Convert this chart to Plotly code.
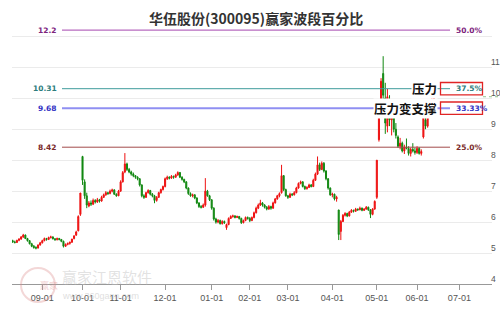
import pandas as pd
import plotly.graph_objects as go

# ---------------- data ----------------
title_text = "华伍股份(300095)赢家波段百分比"

holidays = ['2024-09-16', '2024-09-17', '2024-10-01', '2024-10-02', '2024-10-03',
            '2024-10-04', '2024-10-07', '2025-01-01', '2025-01-28', '2025-01-29',
            '2025-01-30', '2025-01-31', '2025-02-03', '2025-02-04', '2025-04-04',
            '2025-05-01', '2025-05-02', '2025-05-05', '2025-06-02']
start_day = '2024-08-13'
end_day = '2025-07-31'

opens = [5.40, 5.36, 5.34, 5.41, 5.45, 5.52, 5.58, 5.47, 5.40, 5.30,
         5.22, 5.18, 5.16, 5.26, 5.33, 5.40, 5.47, 5.44, 5.50, 5.52,
         5.46, 5.43, 5.47, 5.44, 5.38, 5.22, 5.28, 5.31, 5.35, 5.47,
         5.58, 5.72, 6.25, 8.12, 7.30, 6.85, 6.52, 6.62, 6.58, 6.70,
         6.65, 6.72, 6.68, 6.80, 6.88, 6.95, 6.92, 7.00, 7.04, 6.90,
         6.85, 7.00, 7.30, 7.62, 7.88, 7.70, 7.62, 7.55, 7.50, 7.45,
         7.40, 7.20, 6.85, 6.80, 6.95, 7.02, 6.90, 6.85, 6.70, 6.80,
         6.95, 7.05, 7.15, 7.40, 7.45, 7.42, 7.48, 7.45, 7.52, 7.60,
         7.45, 7.38, 7.30, 7.10, 6.92, 6.85, 6.88, 6.78, 6.62, 6.50,
         6.48, 6.55, 7.00, 6.85, 6.72, 6.45, 6.10, 6.00, 6.05, 5.95,
         6.02, 5.82, 5.92, 6.12, 6.18, 6.20, 6.15, 6.18, 6.12, 5.98,
         6.05, 6.15, 6.12, 6.05, 6.15, 6.30, 6.45, 6.55, 6.62, 6.55,
         6.48, 6.42, 6.50, 6.45, 6.62, 6.75, 6.85, 6.95, 7.50, 7.05,
         6.85, 6.80, 6.90, 6.88, 6.95, 7.10, 7.25, 7.30, 7.15, 7.08,
         7.12, 7.20, 7.15, 7.35, 7.55, 7.85, 7.70, 7.90, 7.65, 7.40,
         7.10, 6.88, 6.90, 6.75, 6.39, 5.70, 6.02, 6.22, 6.28, 6.20,
         6.32, 6.38, 6.35, 6.42, 6.40, 6.45, 6.38, 6.42, 6.48, 6.40,
         6.25, 6.42, 6.80, 8.66, 9.80, 10.80, 10.00, 9.10, 9.95, 9.30,
         9.40, 9.00, 8.75, 8.45, 8.55, 8.30, 8.42, 8.38, 8.22, 8.35,
         8.30, 8.25, 8.38, 8.22, 8.75, 9.30, 9.10, 9.70, 9.55, 9.95]
highs = [5.43, 5.40, 5.43, 5.48, 5.55, 5.62, 5.60, 5.49, 5.42, 5.33,
         5.26, 5.22, 5.28, 5.36, 5.43, 5.50, 5.49, 5.53, 5.56, 5.54,
         5.48, 5.50, 5.49, 5.45, 5.40, 5.31, 5.34, 5.37, 5.46, 5.58,
         5.72, 6.22, 6.94, 8.14, 7.38, 6.95, 6.68, 6.70, 6.76, 6.74,
         6.78, 6.75, 6.85, 6.92, 7.00, 6.98, 7.05, 7.08, 7.06, 6.93,
         7.04, 7.35, 7.65, 8.23, 7.92, 7.75, 7.66, 7.60, 7.52, 7.48,
         7.42, 7.22, 6.90, 6.98, 7.06, 7.04, 6.94, 6.88, 6.84, 6.98,
         7.08, 7.18, 7.44, 7.50, 7.48, 7.52, 7.50, 7.56, 7.64, 7.62,
         7.48, 7.40, 7.32, 7.12, 6.96, 6.92, 6.90, 6.80, 6.64, 6.55,
         6.60, 7.42, 7.04, 6.88, 6.74, 6.48, 6.14, 6.10, 6.08, 6.06,
         6.05, 5.95, 6.15, 6.22, 6.24, 6.22, 6.21, 6.20, 6.14, 6.08,
         6.18, 6.18, 6.16, 6.18, 6.34, 6.50, 6.60, 6.72, 6.65, 6.58,
         6.52, 6.55, 6.53, 6.66, 6.78, 6.88, 6.96, 7.85, 7.52, 7.08,
         6.88, 6.95, 6.94, 7.00, 7.14, 7.28, 7.34, 7.32, 7.18, 7.16,
         7.24, 7.23, 7.40, 7.60, 8.12, 7.92, 7.96, 7.94, 7.68, 7.42,
         7.12, 6.95, 6.92, 6.85, 6.40, 6.07, 6.26, 6.32, 6.30, 6.36,
         6.42, 6.40, 6.46, 6.44, 6.50, 6.47, 6.45, 6.52, 6.50, 6.42,
         6.45, 6.70, 8.00, 9.60, 10.65, 11.36, 10.50, 10.30, 10.10, 9.60,
         9.55, 9.20, 8.80, 8.72, 8.60, 8.50, 8.70, 8.45, 8.40, 8.55,
         8.40, 8.45, 8.42, 8.35, 9.45, 9.60, 9.80, 9.95, 10.60, 10.20]
lows = [5.33, 5.31, 5.33, 5.38, 5.43, 5.49, 5.45, 5.37, 5.28, 5.19,
        5.14, 5.12, 5.15, 5.24, 5.31, 5.38, 5.40, 5.42, 5.47, 5.44,
        5.40, 5.41, 5.41, 5.35, 5.18, 5.20, 5.25, 5.27, 5.33, 5.44,
        5.55, 5.70, 6.20, 7.20, 6.75, 6.45, 6.48, 6.52, 6.55, 6.60,
        6.62, 6.63, 6.66, 6.78, 6.85, 6.88, 6.90, 6.96, 6.88, 6.82,
        6.84, 6.98, 7.28, 7.58, 7.65, 7.58, 7.50, 7.45, 7.40, 7.35,
        7.15, 6.80, 6.75, 6.78, 6.92, 6.86, 6.80, 6.61, 6.66, 6.78,
        6.92, 7.02, 7.12, 7.36, 7.38, 7.40, 7.40, 7.43, 7.50, 7.42,
        7.34, 7.26, 7.06, 6.88, 6.82, 6.80, 6.74, 6.58, 6.46, 6.44,
        6.46, 6.50, 6.82, 6.68, 6.40, 6.05, 5.95, 5.96, 5.92, 5.92,
        5.94, 5.75, 5.90, 6.10, 6.14, 6.12, 6.13, 6.08, 5.94, 5.96,
        6.03, 6.08, 6.00, 6.03, 6.12, 6.28, 6.42, 6.52, 6.50, 6.44,
        6.38, 6.40, 6.40, 6.43, 6.60, 6.72, 6.80, 6.92, 7.00, 6.82,
        6.75, 6.78, 6.84, 6.86, 6.93, 7.08, 7.22, 7.12, 7.04, 7.05,
        7.10, 7.12, 7.13, 7.33, 7.52, 7.65, 7.68, 7.60, 7.35, 7.05,
        6.85, 6.80, 6.70, 6.66, 5.42, 5.42, 6.00, 6.18, 6.16, 6.18,
        6.30, 6.31, 6.33, 6.36, 6.38, 6.35, 6.36, 6.40, 6.36, 6.13,
        6.22, 6.40, 6.75, 8.60, 9.40, 9.90, 8.85, 8.90, 9.10, 8.80,
        8.90, 8.70, 8.40, 8.35, 8.25, 8.20, 8.35, 8.15, 8.12, 8.25,
        8.18, 8.20, 8.18, 8.15, 8.70, 9.00, 9.05, 9.40, 9.50, 9.70]
closes = [5.36, 5.34, 5.41, 5.45, 5.52, 5.58, 5.47, 5.40, 5.30, 5.22,
          5.18, 5.16, 5.26, 5.33, 5.40, 5.47, 5.44, 5.50, 5.52, 5.46,
          5.43, 5.47, 5.44, 5.38, 5.22, 5.28, 5.31, 5.35, 5.45, 5.55,
          5.68, 6.18, 6.94, 7.35, 6.85, 6.55, 6.62, 6.58, 6.70, 6.65,
          6.72, 6.68, 6.80, 6.88, 6.95, 6.92, 7.00, 7.04, 6.90, 6.85,
          7.00, 7.30, 7.60, 7.88, 7.70, 7.62, 7.55, 7.50, 7.45, 7.40,
          7.20, 6.85, 6.80, 6.95, 7.02, 6.90, 6.85, 6.70, 6.80, 6.95,
          7.05, 7.15, 7.40, 7.45, 7.42, 7.48, 7.45, 7.52, 7.60, 7.45,
          7.38, 7.30, 7.10, 6.92, 6.85, 6.88, 6.78, 6.62, 6.50, 6.48,
          6.55, 7.00, 6.85, 6.72, 6.45, 6.10, 6.00, 6.05, 5.95, 6.02,
          5.98, 5.92, 6.12, 6.18, 6.20, 6.15, 6.18, 6.12, 5.98, 6.05,
          6.15, 6.12, 6.05, 6.15, 6.30, 6.45, 6.55, 6.62, 6.55, 6.48,
          6.42, 6.50, 6.45, 6.62, 6.75, 6.85, 6.92, 7.50, 7.05, 6.85,
          6.80, 6.90, 6.88, 6.95, 7.10, 7.25, 7.30, 7.15, 7.08, 7.12,
          7.20, 7.15, 7.35, 7.55, 7.85, 7.70, 7.90, 7.65, 7.40, 7.10,
          6.88, 6.90, 6.75, 6.80, 5.60, 6.02, 6.22, 6.28, 6.20, 6.32,
          6.38, 6.35, 6.42, 6.40, 6.45, 6.38, 6.42, 6.48, 6.40, 6.25,
          6.42, 6.67, 8.00, 9.60, 10.55, 10.10, 9.20, 10.05, 9.30, 9.45,
          9.00, 8.80, 8.45, 8.55, 8.30, 8.42, 8.38, 8.22, 8.35, 8.30,
          8.25, 8.38, 8.22, 8.28, 9.40, 9.10, 9.70, 9.55, 9.95, 10.05]

tick_months = ['2024-09', '2024-10', '2024-11', '2024-12', '2025-01', '2025-02',
               '2025-03', '2025-04', '2025-05', '2025-06', '2025-07']
tick_labels = ['09-01', '10-01', '11-01', '12-01', '01-01', '02-01',
               '03-01', '04-01', '05-01', '06-01', '07-01']

y_ticks = [4, 5, 6, 7, 8, 9, 10, 11, 12]
y_tick_text = ['4', '5', '6', '7', '8', '9', '10', '11', '']

levels = [12.2, 10.31, 9.68, 8.42]
level_left = ['12.2', '10.31', '9.68', '8.42']
level_pct = ['50.0%', '37.5%', '33.33%', '25.0%']
level_line_colors = ['#b76bbf', '#3f9c9c', '#8f8ff2', '#a24a4a']
level_text_colors = ['#7d237d', '#2d7c7c', '#3434c4', '#7a2a2a']
level_widths = [1.3, 1, 2, 1]

marks = ['压力', '压力变支撑']
mark_levels = [10.31, 9.68]
last_price = 10.05

# ---------------- build ----------------
days = pd.bdate_range(start_day, end_day, freq='C', holidays=holidays)
pos = list(range(len(closes)))
tick_pos = []
for m in tick_months:
    idx = [i for i, d in enumerate(days) if d.strftime('%Y-%m') == m]
    tick_pos.append(idx[0])

fig = go.Figure()
fig.add_trace(go.Candlestick(
    x=pos, open=opens, high=highs, low=lows, close=closes,
    increasing=dict(line=dict(color='#ee1111', width=1), fillcolor='#ee1111'),
    decreasing=dict(line=dict(color='#118811', width=1), fillcolor='#118811'),
    whiskerwidth=0, showlegend=False, hoverinfo='skip'))

W = 480.0  # plot width in px
H = 260.0  # plot height in px
def px(xp):
    return (xp - 12) / W
def py(yp):
    return (284 - yp) / H

shapes = []
annotations = []
for lv, lt, pt, lc, tc, lw in zip(levels, level_left, level_pct,
                                  level_line_colors, level_text_colors, level_widths):
    shapes.append(dict(type='line', xref='paper', yref='y', x0=px(62), x1=px(450),
                       y0=lv, y1=lv, line=dict(color=lc, width=lw), layer='above'))
    annotations.append(dict(xref='paper', yref='y', x=px(58.5), y=lv, text=lt,
                            showarrow=False, xanchor='right', yanchor='middle',
                            font=dict(family='DejaVu Sans', size=7.5, color=tc, weight='bold')))
    annotations.append(dict(xref='paper', yref='y', x=px(454), y=lv, text=pt,
                            showarrow=False, xanchor='left', yanchor='middle',
                            font=dict(family='DejaVu Sans', size=7.5, color=tc, weight='bold')))

for lv in mark_levels:
    shapes.append(dict(type='rect', xref='paper', yref='y', x0=px(440.5), x1=px(482.5),
                       y0=lv - 0.2, y1=lv + 0.2, line=dict(color='#e02424', width=1.3),
                       layer='above'))

for mk, lv in zip(marks, mark_levels):
    annotations.append(dict(xref='paper', yref='y', x=px(437.5), y=lv, text=mk,
                            showarrow=False, xanchor='right', yanchor='middle',
                            bgcolor='white', borderpad=0,
                            font=dict(family='Noto Sans CJK SC', size=12.5, color='#111111',
                                      weight='bold')))

shapes.append(dict(type='line', xref='paper', yref='y', x0=px(483), x1=px(499),
                   y0=last_price, y1=last_price,
                   line=dict(color='#8fc48f', width=1, dash='dot')))

# watermark
shapes.append(dict(type='circle', xref='paper', yref='paper',
                   x0=px(21), x1=px(55), y0=py(302), y1=py(268),
                   line=dict(color='rgba(220,140,140,0.35)', width=2)))
annotations.append(dict(xref='paper', yref='paper', x=px(38), y=py(285), text='赢家',
                        showarrow=False, yanchor='middle',
                        font=dict(family='Noto Sans CJK SC', size=9,
                                  color='rgba(220,140,140,0.4)')))
annotations.append(dict(xref='paper', yref='paper', x=px(60), y=py(276), text='赢家江恩软件',
                        showarrow=False, xanchor='left', yanchor='middle',
                        font=dict(family='Noto Sans CJK SC', size=15, color='rgba(190,190,190,0.45)')))
annotations.append(dict(xref='paper', yref='paper', x=px(60), y=py(296), text='www.360gann.com',
                        showarrow=False, xanchor='left', yanchor='middle',
                        font=dict(family='Liberation Sans', size=9, color='rgba(190,190,190,0.5)')))

annotations.append(dict(xref='paper', yref='paper', x=px(255.5), y=py(18),
                        text=title_text, showarrow=False, xanchor='center', yanchor='middle',
                        font=dict(family='Noto Sans CJK SC', size=14, color='#333333',
                                  weight='bold')))

fig.update_layout(
    width=500, height=309,
    margin=dict(l=12, r=8, t=24, b=25, autoexpand=False),
    paper_bgcolor='white', plot_bgcolor='white',
    shapes=shapes, annotations=annotations,
    xaxis=dict(range=[-0.31, 226.4], rangeslider=dict(visible=False), automargin=False,
               tickmode='array', tickvals=tick_pos, ticktext=tick_labels,
               showgrid=False, zeroline=False, showline=True, linecolor='#999999',
               linewidth=1, ticks='outside', ticklen=5, tickcolor='#999999',
               tickfont=dict(family='Liberation Sans', size=9, color='#555555')),
    yaxis=dict(range=[4, 12.4], side='right', tickmode='array', tickvals=y_ticks,
               automargin=False, ticklabelstandoff=-2,
               ticktext=y_tick_text, showgrid=True, gridcolor='#ebebeb', gridwidth=1,
               zeroline=False, showline=False, ticks='', ticklabelshift=-5,
               tickfont=dict(family='Liberation Sans', size=8.5, color='#555555')),
)

fig.write_html("out.html", config=dict(displayModeBar=False))
